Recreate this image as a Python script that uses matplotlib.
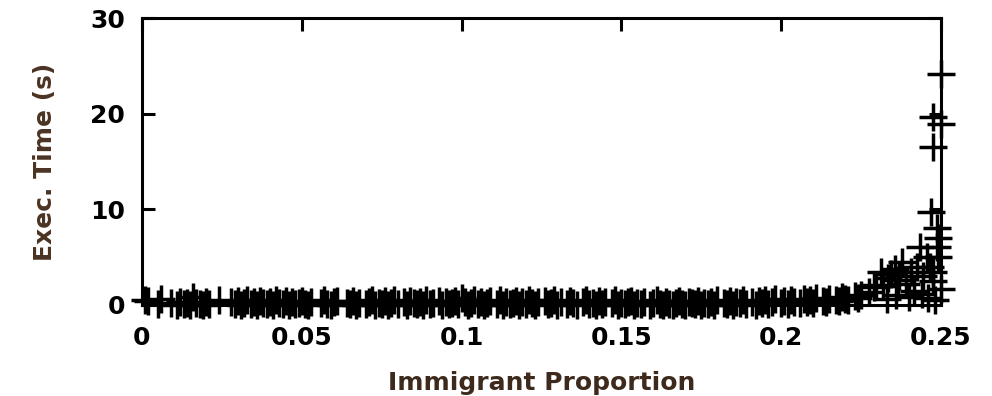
import matplotlib
matplotlib.use('Agg')
from matplotlib import pyplot as plt

# immigrant proportion of the fast runs, in thousandths
band_x_milli = [1, 2, 5, 6, 9, 11, 12, 13, 14, 15,
                16, 17, 18, 19, 20, 21, 24, 28, 29, 30,
                31, 32, 33, 34, 35, 36, 37, 38, 39, 40,
                41, 42, 43, 44, 45, 46, 47, 48, 49, 50,
                51, 52, 53, 56, 57, 58, 59, 60, 61, 64,
                65, 66, 67, 68, 70, 71, 72, 73, 74, 75,
                76, 77, 78, 79, 80, 82, 83, 84, 85, 86,
                87, 88, 89, 90, 91, 93, 94, 95, 96, 97,
                98, 99, 100, 101, 102, 103, 104, 105, 106, 107,
                108, 109, 111, 112, 113, 114, 115, 116, 117, 118,
                119, 120, 121, 122, 123, 124, 126, 127, 128, 129,
                130, 131, 133, 134, 135, 136, 138, 139, 140, 141,
                142, 143, 144, 145, 147, 148, 149, 150, 151, 152,
                153, 154, 155, 156, 157, 159, 160, 161, 162, 163,
                164, 165, 166, 167, 168, 169, 170, 171, 172, 173,
                174, 175, 176, 177, 178, 179, 180, 182, 183, 184,
                185, 186, 187, 188, 189, 191, 192, 193, 194, 195,
                196, 197, 198, 200, 201, 202, 203, 204, 206, 207,
                208, 209, 210, 211, 213, 214, 215, 217, 218, 219,
                220, 221, 223, 224]
# execution time of the fast runs (s)
band_y = [0.5, 0.4, 0.1, 0.6, 0.2, 0.0, 0.3, 0.1, 0.2, 0.0,
          0.8, 0.2, 0.1, 0.0, 0.3, 0.1, 0.5, 0.3, 0.1, 0.4,
          0.0, 0.2, 0.5, 0.1, 0.3, 0.0, 0.4, 0.2, 0.1, 0.3,
          0.0, 0.5, 0.2, 0.1, 0.4, 0.0, 0.3, 0.1, 0.2, 0.4,
          0.1, 0.0, 0.3, 0.2, 0.5, 0.1, 0.0, 0.3, 0.4, 0.2,
          0.1, 0.4, 0.0, 0.2, 0.1, 0.3, 0.5, 0.0, 0.2, 0.1,
          0.4, 0.0, 0.2, 0.5, 0.1, 0.3, 0.0, 0.4, 0.2, 0.1,
          0.3, 0.0, 0.5, 0.1, 0.2, 0.4, 0.0, 0.3, 0.1, 0.2,
          0.4, 0.1, 0.7, 0.3, 0.0, 0.2, 0.5, 0.1, 0.3, 0.0,
          0.2, 0.4, 0.1, 0.5, 0.0, 0.3, 0.1, 0.2, 0.4, 0.0,
          0.3, 0.1, 0.5, 0.2, 0.0, 0.3, 0.4, 0.1, 0.2, 0.5,
          0.0, 0.3, 0.1, 0.4, 0.2, 0.0, 0.3, 0.5, 0.1, 0.2,
          0.0, 0.4, 0.1, 0.3, 0.2, 0.5, 0.0, 0.2, 0.1, 0.3,
          0.4, 0.0, 0.2, 0.1, 0.3, 0.0, 0.2, 0.5, 0.1, 0.0,
          0.3, 0.1, 0.0, 0.2, 0.4, 0.1, 0.0, 0.3, 0.2, 0.1,
          0.4, 0.0, 0.2, 0.1, 0.3, 0.0, 0.5, 0.2, 0.1, 0.4,
          0.0, 0.3, 0.2, 0.5, 0.1, 0.3, 0.0, 0.4, 0.2, 0.5,
          0.1, 0.3, 0.6, 0.2, 0.4, 0.1, 0.5, 0.3, 0.2, 0.6,
          0.3, 0.5, 0.2, 0.7, 0.4, 0.3, 0.6, 0.5, 0.4, 0.8,
          0.6, 0.5, 0.9, 0.7]

# runs near the top of the proportion range, where the time blows up
tail_x = [0.2250, 0.2275, 0.2290, 0.2298, 0.2312, 0.2320, 0.2330, 0.2335, 0.2345, 0.2355,
          0.2360, 0.2365, 0.2370, 0.2378, 0.2390, 0.2400, 0.2406, 0.2415, 0.2425, 0.2434,
          0.2440, 0.2445, 0.2455, 0.2460, 0.2465, 0.2470, 0.2475, 0.2475, 0.2475, 0.2475,
          0.2480, 0.2487, 0.2487, 0.2490, 0.2490, 0.2500, 0.2500, 0.2500]
tail_y = [1.0, 1.4, 1.9, 2.1, 3.5, 2.0, 0.6, 2.8, 3.2, 3.8,
          1.0, 2.6, 3.0, 4.5, 2.2, 0.8, 3.5, 1.5, 4.0, 6.1,
          1.2, 3.0, 5.0, 0.7, 4.0, 9.7, 2.5, 3.5, 16.5, 19.7,
          0.5, 8.1, 6.1, 7.0, 5.0, 24.1, 18.9, 1.7]

x_ticks = [0, 0.05, 0.1, 0.15, 0.2, 0.25]
x_tick_labels = ['0', '0.05', '0.1', '0.15', '0.2', '0.25']
y_ticks = [0, 10, 20, 30]

plt.rcParams['font.family'] = ['DejaVu Sans']
plt.rcParams['font.weight'] = 'bold'

fig = plt.figure(figsize=(9.92, 3.96), dpi=100)
ax = fig.add_axes([142 / 992, 1 - 305 / 396, 799 / 992, 287 / 396])

all_x = [v / 1000 for v in band_x_milli] + tail_x
all_y = band_y + tail_y
ax.plot(all_x, all_y, linestyle='none', marker='+',
        markersize=19.5, markeredgewidth=2.5, color='black', clip_on=False)

ax.set_xlim(0, 0.25)
ax.set_ylim(0, 30)
ax.set_xticks(x_ticks)
ax.set_xticklabels(x_tick_labels)
ax.set_yticks(y_ticks)

for s in ax.spines.values():
    s.set_linewidth(2.2)
ax.tick_params(direction='in', length=9, width=2.2, top=True, right=True,
               labelsize=18, colors='black')
ax.tick_params(axis='y', pad=12)
ax.tick_params(axis='x', pad=15)

ax.set_xlabel('Immigrant Proportion', fontsize=18, fontweight='bold',
              color='#3d2a1c', labelpad=15)
ax.set_ylabel('Exec. Time (s)', fontsize=18, fontweight='bold',
              color='#4a3322', labelpad=24)

fig.savefig('out.png', dpi=100)
